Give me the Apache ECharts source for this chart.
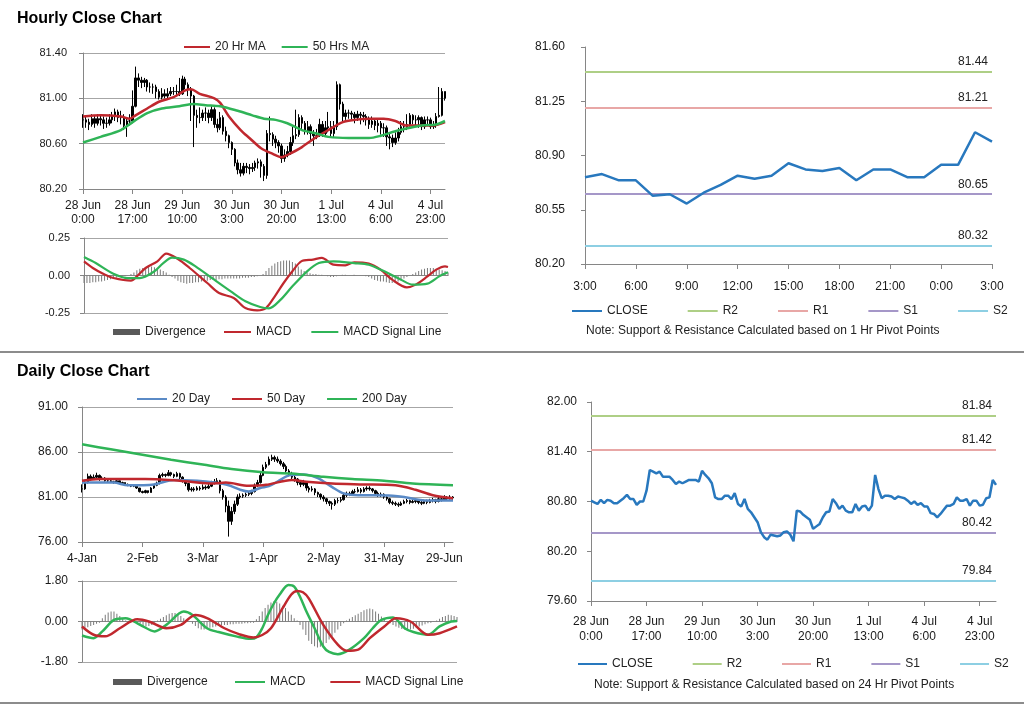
<!DOCTYPE html>
<html><head><meta charset="utf-8">
<script src="https://cdn.jsdelivr.net/npm/echarts@6/dist/echarts.min.js"></script>
<style>html,body{margin:0;padding:0;background:#fff}#c{width:1024px;height:706px}</style>
</head><body><div id="c"></div>
<script>
// ---------------- DATA ----------------
const hourTickLabels = ['28 Jun\n0:00','28 Jun\n17:00','29 Jun\n10:00','30 Jun\n3:00','30 Jun\n20:00','1 Jul\n13:00','4 Jul\n6:00','4 Jul\n23:00'];
const hourClose = [80.81,80.79,80.77,80.82,80.78,80.82,80.81,80.78,80.78,80.81,
 80.84,80.88,80.83,80.83,80.76,80.80,80.80,80.93,81.18,81.16,
 81.14,81.16,81.10,81.10,81.10,81.06,81.01,81.04,81.02,81.04,
 81.06,81.06,81.06,81.04,81.17,81.12,81.08,81.02,80.85,80.83,
 80.83,80.87,80.87,80.83,80.90,80.77,80.74,80.83,80.71,80.67,
 80.61,80.55,80.43,80.37,80.34,80.40,80.39,80.38,80.39,80.43,
 80.44,80.40,80.32,80.69,80.68,80.64,80.61,80.58,80.47,80.50,
 80.53,80.61,80.67,80.68,80.83,80.78,80.71,80.75,80.69,80.67,
 80.67,80.77,80.69,80.74,80.75,80.69,80.75,81.12,80.95,80.84,
 80.87,80.87,80.86,80.83,80.86,80.85,80.84,80.81,80.77,80.80,
 80.76,80.78,80.74,80.74,80.66,80.65,80.61,80.65,80.70,80.75,
 80.75,80.77,80.85,80.81,80.81,80.83,80.75,80.81,80.81,80.75,
 80.76,80.84,80.85,81.06,81.00];
const hourHigh = [80.86,80.85,80.82,80.86,80.85,80.86,80.85,80.84,80.83,80.86,
 80.88,80.91,80.90,80.89,80.86,80.82,80.86,81.07,81.28,81.22,
 81.19,81.18,81.17,81.14,81.13,81.12,81.08,81.09,81.08,81.09,
 81.10,81.10,81.12,81.18,81.20,81.19,81.14,81.10,81.03,80.90,
 80.92,80.90,80.92,80.90,80.93,80.92,80.82,80.88,80.85,80.75,
 80.68,80.62,80.56,80.46,80.43,80.43,80.43,80.42,80.43,80.45,
 80.47,80.46,80.42,80.72,80.84,80.70,80.67,80.63,80.60,80.55,
 80.58,80.66,80.75,80.90,80.86,80.85,80.80,80.80,80.77,80.72,
 80.73,80.82,80.80,80.80,80.88,80.80,80.80,81.15,81.13,80.97,
 80.90,80.90,80.89,80.88,80.89,80.88,80.88,80.86,80.84,80.84,
 80.82,80.81,80.80,80.78,80.76,80.70,80.68,80.70,80.74,80.80,
 80.80,80.86,80.87,80.86,80.85,80.85,80.84,80.84,80.84,80.83,
 80.80,80.87,81.10,81.09,81.06];
const hourLow = [80.74,80.74,80.72,80.75,80.74,80.76,80.76,80.73,80.74,80.76,
 80.78,80.80,80.79,80.77,80.72,80.66,80.76,80.78,80.92,81.10,
 81.09,81.10,81.06,81.05,81.04,81.00,80.99,80.99,81.00,81.00,
 81.02,81.03,81.02,81.02,81.03,81.08,81.02,80.80,80.57,80.74,
 80.78,80.80,80.80,80.78,80.80,80.74,80.70,80.72,80.68,80.62,
 80.56,80.50,80.40,80.33,80.31,80.32,80.34,80.33,80.35,80.36,
 80.38,80.30,80.27,80.29,80.62,80.58,80.56,80.52,80.43,80.44,
 80.48,80.50,80.58,80.64,80.66,80.72,80.68,80.68,80.62,80.58,
 80.64,80.66,80.66,80.66,80.70,80.66,80.66,80.72,80.90,80.80,
 80.81,80.82,80.80,80.78,80.80,80.77,80.79,80.76,80.73,80.74,
 80.72,80.70,80.68,80.66,80.58,80.55,80.57,80.59,80.62,80.68,
 80.70,80.72,80.75,80.77,80.76,80.74,80.72,80.73,80.76,80.73,
 80.73,80.74,80.83,80.84,80.98];
const ma20Hour = [[0,80.84],[6,80.85],[13,80.84],[16,80.82],[18,80.85],[22,80.91],[26,80.97],[31,81.01],[35,81.07],[37,81.08],[40,81.04],[45,81.00],[47,80.96],[50,80.84],[54,80.72],[57,80.65],[61,80.56],[65,80.51],[68,80.48],[70,80.50],[75,80.57],[80,80.66],[84,80.72],[89,80.79],[93,80.81],[98,80.82],[103,80.82],[107,80.80],[111,80.76],[116,80.76],[120,80.76],[124,80.79]];
const ma50Hour = [[0,80.61],[6,80.66],[13,80.72],[17,80.79],[22,80.87],[27,80.91],[33,80.93],[38,80.95],[42,80.94],[47,80.93],[53,80.89],[58,80.85],[62,80.82],[66,80.81],[70,80.78],[75,80.72],[80,80.69],[84,80.66],[91,80.65],[98,80.65],[102,80.67],[107,80.71],[112,80.74],[116,80.76],[121,80.77],[124,80.80]];
const hourDivergence = [-0.05,-0.05,-0.05,-0.045,-0.045,-0.04,-0.04,-0.035,-0.03,-0.025,
 -0.02,-0.015,-0.01,-0.005,-0.005,0.0,
 0.01,0.02,0.035,0.045,0.05,
 0.055,0.06,0.06,0.055,0.05,0.04,0.03,
 0.02,0.005,-0.01,-0.02,
 -0.035,-0.045,-0.05,-0.055,-0.05,-0.05,-0.045,-0.045,-0.04,
 -0.035,-0.035,-0.03,-0.03,-0.03,-0.025,-0.025,-0.02,-0.02,-0.02,
 -0.02,-0.02,-0.02,-0.015,-0.015,-0.015,-0.01,-0.01,-0.005,0.0,
 0.01,0.03,0.05,0.065,0.08,0.09,0.095,0.10,0.10,0.10,
 0.09,0.08,0.06,0.04,0.03,0.02,0.015,0.01,
 0.01,0.005,0.005,0,-0.005,-0.01,-0.01,-0.005,0,0.005,0.005,0,0,0.005,0,0,0,
 -0.005,-0.01,-0.02,-0.03,-0.035,-0.04,-0.04,-0.045,-0.05,-0.05,-0.045,-0.04,-0.03,-0.02,-0.01,
 0.0,0.01,0.02,0.03,0.04,0.045,0.05,0.05,0.05,0.045,0.04,0.035,0.03,0.02];
const hourMacd = [[0,0.094],[3,0.05],[7,0.006],[10,-0.017],[16,-0.034],[18,-0.006],[21,0.05],[25,0.094],[28,0.146],[32,0.11],[36,0.05],[42,-0.05],[46,-0.117],[51,-0.15],[55,-0.217],[59,-0.232],[62,-0.217],[65,-0.139],[68,-0.05],[71,0.028],[74,0.094],[78,0.106],[81,0.117],[85,0.072],[89,0.068],[92,0.088],[97,0.079],[101,0.039],[105,-0.028],[110,-0.079],[113,-0.061],[117,-0.006],[120,0.039],[123,0.061],[124,0.057]];
const hourSignal = [[0,0.123],[4,0.083],[10,0.012],[15,-0.017],[19,-0.017],[24,0.028],[27,0.083],[30,0.119],[34,0.106],[38,0.061],[44,-0.023],[50,-0.106],[55,-0.172],[60,-0.21],[63,-0.219],[67,-0.161],[71,-0.072],[76,0.028],[80,0.083],[85,0.094],[92,0.083],[97,0.072],[103,0.021],[108,-0.028],[112,-0.061],[117,-0.054],[121,-0.006],[124,0.021]];

const pivotHours = ['3:00','4:00','5:00','6:00','7:00','8:00','9:00','10:00','11:00','12:00','13:00','14:00','15:00','16:00','17:00','18:00','19:00','20:00','21:00','22:00','23:00','0:00','1:00','2:00','3:00'];
const pivotClose = [80.76,80.78,80.74,80.74,80.64,80.65,80.59,80.66,80.71,80.77,80.75,80.77,80.85,80.81,80.80,80.82,80.74,80.81,80.81,80.76,80.76,80.84,80.84,81.05,80.99];
const levelNames = ['R2','R1','S1','S2'];
const levels1Hr = [81.44,81.21,80.65,80.32];
const levels24Hr = [81.84,81.42,80.42,79.84];

const dayTickLabels = ['4-Jan','2-Feb','3-Mar','1-Apr','2-May','31-May','29-Jun'];
const dayClose = [81.9,82.6,83.3,83.0,83.2,83.4,83.0,83.1,82.8,82.8,
 82.7,82.6,82.8,82.5,82.6,82.4,82.3,82.2,82.3,82.0,
 81.6,81.5,81.7,81.5,82.0,82.3,82.5,83.4,83.5,83.4,
 83.7,83.5,83.3,83.6,83.2,82.8,82.5,81.8,81.9,81.8,
 82.0,81.9,82.1,82.0,82.2,82.6,82.7,82.8,81.7,81.0,
 80.0,78.3,79.4,80.2,81.0,81.1,81.2,81.3,81.4,81.6,
 82.3,82.6,83.4,84.3,84.6,85.2,85.4,85.2,85.0,84.7,
 84.4,83.9,83.6,83.2,83.0,82.6,82.4,82.6,82.0,81.8,
 81.9,81.5,81.3,81.0,80.8,80.5,80.3,80.2,80.6,80.6,
 80.7,81.2,81.4,81.3,81.6,81.6,81.8,81.6,81.9,82.0,
 81.9,81.7,81.4,81.2,81.3,81.0,80.8,80.4,80.3,80.2,
 80.1,80.3,80.5,80.6,80.4,80.5,80.6,80.4,80.3,80.5,
 80.4,80.6,80.7,80.5,80.8,80.7,80.9,80.8,81.0,80.9];
const dayHigh = [82.4,82.9,83.6,83.5,83.5,83.7,83.5,83.3,83.2,82.9,
 82.9,82.8,82.9,82.8,82.7,82.6,82.5,82.4,82.4,82.3,
 82.0,81.7,81.8,81.7,82.1,82.4,82.7,83.6,83.7,83.6,
 84.0,83.8,83.6,83.8,83.7,83.3,82.9,82.6,82.1,82.1,
 82.2,82.2,82.4,82.3,82.5,82.8,83.0,83.1,82.9,81.9,
 81.2,80.6,79.9,80.6,81.3,81.4,81.4,81.5,81.6,81.8,
 82.5,82.9,83.7,84.6,84.9,85.5,85.7,85.6,85.5,85.2,
 84.9,84.6,84.1,83.8,83.4,83.1,82.8,82.9,82.7,82.2,
 82.2,82.0,81.6,81.4,81.2,80.9,80.6,80.5,80.8,80.9,
 81.0,81.4,81.6,81.6,81.8,81.9,82.1,82.0,82.1,82.2,
 82.2,82.0,81.8,81.6,81.5,81.4,81.1,80.9,80.6,80.5,
 80.4,80.5,80.7,80.8,80.7,80.7,80.8,80.7,80.6,80.7,
 80.7,80.8,80.9,80.8,81.0,81.0,81.2,81.1,81.2,81.1];
const dayLow = [81.5,81.8,82.5,82.8,82.9,83.0,82.8,82.9,82.7,82.6,
 82.6,82.5,82.5,82.4,82.4,82.3,82.2,82.1,82.1,81.9,
 81.5,81.4,81.4,81.4,81.5,81.9,82.2,82.4,83.2,83.2,
 83.3,83.3,83.1,83.2,83.0,82.6,82.2,81.6,81.6,81.6,
 81.7,81.7,81.8,81.8,81.9,82.1,82.4,82.5,81.4,80.7,
 79.3,76.6,77.9,79.1,80.0,80.8,80.9,81.0,81.1,81.2,
 81.5,82.1,82.5,83.3,84.1,84.5,85.0,84.9,84.8,84.5,
 84.1,83.7,83.3,83.0,82.7,82.3,82.1,82.2,81.7,81.5,
 81.6,81.2,81.0,80.7,80.5,80.2,80.0,79.6,80.0,80.3,
 80.4,80.6,81.0,81.1,81.2,81.4,81.5,81.4,81.5,81.7,
 81.7,81.5,81.2,81.0,81.0,80.8,80.6,80.2,80.1,80.0,
 79.9,80.0,80.2,80.3,80.2,80.3,80.3,80.2,80.1,80.2,
 80.2,80.3,80.4,80.3,80.4,80.5,80.6,80.6,80.7,80.7];
const ma20Day = [[0,82.6],[11,82.6],[16,82.3],[25,82.4],[32,82.9],[40,82.8],[46,82.6],[51,82.3],[55,81.8],[58,81.6],[62,82.0],[65,82.2],[68,82.7],[72,83.4],[77,83.5],[82,83.1],[87,82.1],[91,81.4],[96,81.2],[101,81.2],[108,81.15],[112,81.0],[117,80.7],[121,80.6],[129,80.6]];
const ma50Day = [[0,82.8],[6,83.0],[22,83.0],[34,82.8],[46,82.5],[50,82.6],[58,82.25],[64,82.35],[73,82.9],[78,82.7],[87,82.5],[98,82.4],[109,82.3],[116,81.8],[122,81.2],[129,80.85]];
const ma200Day = [[0,86.85],[10,86.3],[21,85.7],[31,85.15],[42,84.6],[52,84.1],[63,83.75],[73,83.6],[84,83.25],[94,83.0],[105,82.8],[115,82.5],[129,82.3]];
const dayDivergence = [-0.35,-0.3,-0.25,-0.2,-0.15,-0.1,-0.05,
 0.15,0.3,0.4,0.45,0.44,0.35,0.25,0.12,
 0.05,0.02,-0.02,0.03,-0.05,
 -0.1,-0.2,-0.22,-0.2,-0.15,-0.05,
 0.05,0.12,0.2,0.28,0.35,0.38,0.38,0.32,0.25,0.15,0.08,0.02,
 -0.1,-0.2,-0.3,-0.35,-0.35,-0.3,-0.28,-0.25,-0.22,-0.2,-0.18,-0.15,-0.15,-0.12,-0.12,-0.1,-0.1,-0.1,-0.08,-0.08,-0.06,-0.05,
 0.1,0.25,0.45,0.6,0.75,0.85,0.9,0.88,0.8,0.7,0.6,0.45,0.3,0.15,0.05,
 -0.15,-0.35,-0.6,-0.85,-1.0,-1.1,-1.15,-1.12,-1.05,-0.95,-0.8,-0.65,-0.5,-0.35,-0.2,-0.08,
 0.05,0.12,0.2,0.28,0.35,0.42,0.5,0.55,0.58,0.55,0.45,0.35,0.22,0.1,
 -0.02,-0.08,-0.15,-0.22,-0.28,-0.33,-0.36,-0.37,-0.35,-0.32,-0.28,-0.22,-0.18,-0.12,-0.08,-0.05,-0.02,
 0.05,0.12,0.2,0.25,0.3,0.28,0.25,0.2];
const dayMacd = [[0,-0.62],[4,-0.74],[7,-0.44],[11,0.07],[15,0.15],[20,-0.15],[25,-0.44],[29,-0.15],[35,0.44],[38,0.29],[43,-0.30],[47,-0.47],[53,-0.66],[58,-0.77],[60,-0.70],[62,-0.30],[64,0.30],[66,0.80],[68,1.20],[71,1.62],[73,1.55],[75,1.10],[77,0.50],[80,-0.30],[83,-1.11],[85,-1.35],[88,-1.45],[92,-1.25],[97,-0.74],[100,-0.30],[103,0.07],[107,0.18],[111,-0.30],[114,-0.47],[119,-0.59],[123,-0.22],[127,0],[129,0.02]];
const daySignal = [[0,-0.22],[4,-0.59],[8,-0.66],[13,-0.30],[19,0.10],[23,0],[29,-0.30],[34,-0.15],[39,0.29],[43,0.15],[49,-0.30],[54,-0.56],[59,-0.71],[62,-0.60],[65,-0.30],[69,0.59],[72,1.20],[74,1.36],[76,1.30],[78,1.03],[83,-0.15],[88,-1.03],[91,-1.30],[95,-1.25],[99,-0.74],[104,-0.22],[108,0.15],[113,0],[119,-0.59],[123,-0.52],[129,-0.22]];

// ---------------- STYLE ----------------
const FONT = "'Liberation Sans', Arial, sans-serif";
const RED = '#c0282e', GREEN = '#2fb457', BLUE20 = '#5a8ac6', CLOSEBLUE = '#2878be';
const levelColors = ['#aecf86','#e8a7a6','#a597c8','#8dcfe3'];
const AXIS = '#868686', GRID = '#a6a6a6', TXT = '#1a1a1a';

const hourCats = hourClose.map((_, i) => i);
const dayCats = dayClose.map((_, i) => i);
const hourBars = hourClose.map((c, i) => [i === 0 ? c : hourClose[i - 1], c, hourLow[i], hourHigh[i]]);
const dayBars = dayClose.map((c, i) => [i === 0 ? c : dayClose[i - 1], c, dayLow[i], dayHigh[i]]);

const fmt2 = v => v.toFixed(2);
const strip = n => n.replace(/_.*$/, '');

function valAxis(gi, min, max, interval, opts) {
  return Object.assign({
    type: 'value', gridIndex: gi, min, max, interval, scale: false,
    axisLine: { show: true, lineStyle: { color: AXIS } },
    axisTick: { show: true, length: 4, lineStyle: { color: AXIS } },
    splitLine: { show: true, lineStyle: { color: GRID } },
    axisLabel: { formatter: fmt2, color: TXT, fontSize: 11, fontFamily: FONT, margin: 14 }
  }, opts || {});
}
function catAxis(gi, data, interval, labelFn, opts) {
  return Object.assign({
    type: 'category', gridIndex: gi, data, boundaryGap: false,
    axisLine: { show: true, onZero: false, lineStyle: { color: AXIS } },
    axisTick: { show: true, interval, length: 5, lineStyle: { color: AXIS } },
    axisLabel: { show: !!labelFn, interval, formatter: labelFn, color: TXT, fontSize: 12, fontFamily: FONT, lineHeight: 14, margin: 10 },
    splitLine: { show: false }
  }, opts || {});
}
const hourLabel = (v, idx) => hourTickLabels[idx / 17] || '';
const dayLabel = (v, idx) => dayTickLabels[idx / 21] || '';

function lineSeries(name, data, color, xi, width) {
  return { name, type: 'line', xAxisIndex: xi, yAxisIndex: xi, data, smooth: 0.3, connectNulls: true,
    symbol: 'none', lineStyle: { color, width: width || 2.2 }, itemStyle: { color }, z: 3 };
}
function levelSeries(suffix, values, xi) {
  return levelNames.map((n, k) => ({
    name: n + suffix, type: 'line', xAxisIndex: xi, yAxisIndex: xi, data: [], symbol: 'none',
    itemStyle: { color: levelColors[k] }, lineStyle: { color: levelColors[k], width: 2 },
    markLine: { silent: true, symbol: ['none', 'none'], animation: false,
      lineStyle: { color: levelColors[k], width: 2, type: 'solid' },
      label: { show: true, position: 'insideEndTop', formatter: p => p.value.toFixed(2), color: '#222', fontSize: 12, fontFamily: FONT, distance: 4 },
      data: [{ yAxis: values[k] }] }
  }));
}
const legendBase = { selectedMode: false, icon: 'rect', itemHeight: 2, formatter: strip,
  textStyle: { color: '#222', fontSize: 12, fontFamily: FONT } };
const L = o => Object.assign({}, legendBase, o);
const candleStyle = { color: '#000', color0: '#000', borderColor: '#000', borderColor0: '#000', borderWidth: 1 };

const option = {
  animation: false,
  backgroundColor: '#fff',
  textStyle: { fontFamily: FONT },
  title: [
    { text: 'Hourly Close Chart', left: 12, top: 6, textStyle: { fontSize: 16, fontWeight: 'bold', color: '#000', fontFamily: FONT } },
    { text: 'Daily Close Chart', left: 12, top: 359, textStyle: { fontSize: 16, fontWeight: 'bold', color: '#000', fontFamily: FONT } },
    { text: 'Note: Support & Resistance Calculated based on 1 Hr Pivot Points', left: 581, top: 320, textStyle: { fontSize: 12, fontWeight: 'normal', color: '#222', fontFamily: FONT } },
    { text: 'Note: Support & Resistance Calculated based on 24 Hr Pivot Points', left: 589, top: 674, textStyle: { fontSize: 12, fontWeight: 'normal', color: '#222', fontFamily: FONT } }
  ],
  graphic: [
    { type: 'line', shape: { x1: 0, y1: 352, x2: 1024, y2: 352 }, style: { stroke: '#8c8c8c', lineWidth: 2 } },
    { type: 'line', shape: { x1: 0, y1: 703, x2: 1024, y2: 703 }, style: { stroke: '#8c8c8c', lineWidth: 2 } }
  ],
  legend: [
    L({ data: ['20 Hr MA', '50 Hrs MA'], left: 179, top: 36, itemWidth: 26, itemGap: 16 }),
    L({ data: [{ name: 'Divergence_h', itemStyle: { color: '#595959' } }], left: 108, top: 321, itemWidth: 27, itemHeight: 6 }),
    L({ data: ['MACD_h', 'MACD Signal Line_h'], left: 219, top: 321, itemWidth: 27, itemGap: 20 }),
    L({ data: ['CLOSE_1', 'R2_1', 'R1_1', 'S1_1', 'S2_1'], left: 567, top: 300, itemWidth: 30, itemGap: 40 }),
    L({ data: ['20 Day', '50 Day', '200 Day'], left: 132, top: 388, itemWidth: 30, itemGap: 22 }),
    L({ data: [{ name: 'Divergence_d', itemStyle: { color: '#595959' } }], left: 108, top: 671, itemWidth: 29, itemHeight: 6 }),
    L({ data: ['MACD_d', 'MACD Signal Line_d'], left: 230, top: 671, itemWidth: 30, itemGap: 25 }),
    L({ data: ['CLOSE_2', 'R2_2', 'R1_2', 'S1_2', 'S2_2'], left: 573, top: 653, itemWidth: 29, itemGap: 40 })
  ],
  grid: [
    { left: 83, top: 53, width: 362, height: 136, outerBoundsMode: 'none' },
    { left: 84, top: 238, width: 364, height: 75, outerBoundsMode: 'none' },
    { left: 585, top: 47, width: 407, height: 217, outerBoundsMode: 'none' },
    { left: 82, top: 407, width: 371, height: 135, outerBoundsMode: 'none' },
    { left: 82, top: 581, width: 375, height: 81, outerBoundsMode: 'none' },
    { left: 591, top: 402, width: 405, height: 199, outerBoundsMode: 'none' }
  ],
  xAxis: [
    catAxis(0, hourCats, 16, hourLabel, {}),
    catAxis(1, hourCats, 16, null, { axisTick: { show: false }, axisLine: { show: true, onZero: true, lineStyle: { color: AXIS } } }),
    catAxis(2, pivotHours, 2, v => v, { axisLabel: { interval: 2, color: TXT, fontSize: 12, fontFamily: FONT, margin: 17 } }),
    catAxis(3, dayCats, 20, dayLabel, { axisLabel: { interval: 20, formatter: dayLabel, color: TXT, fontSize: 12, fontFamily: FONT, margin: 11 } }),
    catAxis(4, dayCats, 20, null, { axisTick: { show: false }, axisLine: { show: true, onZero: true, lineStyle: { color: AXIS } } }),
    catAxis(5, hourCats, 16, hourLabel, { axisLabel: { interval: 16, formatter: hourLabel, color: TXT, fontSize: 12, fontFamily: FONT, lineHeight: 15, margin: 13 } })
  ],
  yAxis: [
    valAxis(0, 80.2, 81.4, 0.4, { axisLabel: { formatter: fmt2, color: TXT, fontSize: 11, fontFamily: FONT, margin: 16 } }),
    valAxis(1, -0.25, 0.25, 0.25, { axisLabel: { formatter: fmt2, color: TXT, fontSize: 11, fontFamily: FONT, margin: 14 } }),
    valAxis(2, 80.2, 81.6, 0.35, { splitLine: { show: false }, axisLabel: { formatter: fmt2, color: TXT, fontSize: 12, fontFamily: FONT, margin: 20 } }),
    valAxis(3, 76, 91, 5, { axisLabel: { formatter: fmt2, color: TXT, fontSize: 12, fontFamily: FONT, margin: 14 } }),
    valAxis(4, -1.8, 1.8, 1.8, { axisLabel: { formatter: fmt2, color: TXT, fontSize: 12, fontFamily: FONT, margin: 14 } }),
    valAxis(5, 79.6, 82.0, 0.6, { splitLine: { show: false }, axisLabel: { formatter: fmt2, color: TXT, fontSize: 12, fontFamily: FONT, margin: 14 } })
  ],
  series: [
    { type: 'candlestick', name: 'hourly', xAxisIndex: 0, yAxisIndex: 0, data: hourBars, barWidth: 2, itemStyle: candleStyle, z: 2 },
    lineSeries('20 Hr MA', ma20Hour, RED, 0, 2.5),
    lineSeries('50 Hrs MA', ma50Hour, GREEN, 0, 2.5),
    { type: 'bar', name: 'Divergence_h', xAxisIndex: 1, yAxisIndex: 1, data: hourDivergence, barWidth: 1, itemStyle: { color: '#7a7a7a' }, z: 2 },
    lineSeries('MACD_h', hourMacd, RED, 1),
    lineSeries('MACD Signal Line_h', hourSignal, GREEN, 1),
    Object.assign(lineSeries('CLOSE_1', pivotClose, CLOSEBLUE, 2, 2.5), { smooth: false, z: 5 }),
    ...levelSeries('_1', levels1Hr, 2),
    { type: 'candlestick', name: 'daily', xAxisIndex: 3, yAxisIndex: 3, data: dayBars, barWidth: 2, itemStyle: candleStyle, z: 2 },
    lineSeries('20 Day', ma20Day, BLUE20, 3, 2.5),
    lineSeries('50 Day', ma50Day, RED, 3, 2.5),
    lineSeries('200 Day', ma200Day, GREEN, 3, 2.5),
    { type: 'bar', name: 'Divergence_d', xAxisIndex: 4, yAxisIndex: 4, data: dayDivergence, barWidth: 1, itemStyle: { color: '#7a7a7a' }, z: 2 },
    lineSeries('MACD_d', dayMacd, GREEN, 4, 2.5),
    lineSeries('MACD Signal Line_d', daySignal, RED, 4, 2.5),
    Object.assign(lineSeries('CLOSE_2', hourClose, CLOSEBLUE, 5, 2.5), { smooth: false, z: 5 }),
    ...levelSeries('_2', levels24Hr, 5)
  ]
};

const chart = echarts.init(document.getElementById('c'), null, { renderer: 'canvas' });
chart.setOption(option);
</script>
</body></html>
